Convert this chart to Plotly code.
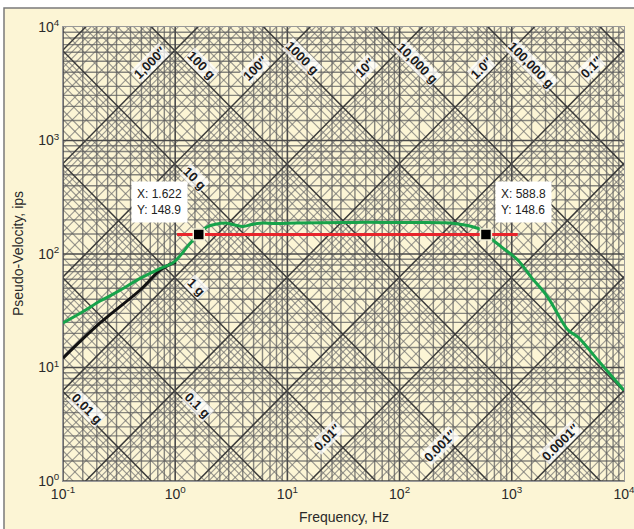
import numpy as np
import plotly.graph_objects as go

# ---------------- data ----------------
green_f = [0.1, 0.15, 0.214, 0.3, 0.487, 0.7, 0.96, 1.1, 1.3, 1.45, 1.622, 1.92, 2.3, 2.88, 3.4, 4.03,
           4.8, 5.7, 8, 12, 20, 40, 80, 150, 250, 311, 440, 540, 588.8, 814, 1131, 1500, 2090,
           3170, 3880, 5860, 10000]
green_v = [24.7, 31, 38.5, 46, 61, 73, 84, 96, 118, 133, 148.9, 173, 183, 187, 180, 175,
           182, 187, 186, 188, 189, 190, 190, 190, 189, 186, 175, 162, 148.6, 115, 88.5, 62, 41.8,
           21.4, 18.6, 11.6, 6.3]

black_f = [0.1, 0.214, 0.487, 0.735, 0.9, 1.02]
black_v = [12.1, 24.7, 48.2, 72.3, 81, 85]

red_f = [1.04, 1130]
red_v = [148.75, 148.75]

cursor_x = [1.622, 588.8]
cursor_y = [148.9, 148.6]

x_tick_exp = [-1, 0, 1, 2, 3, 4]
y_tick_exp = [0, 1, 2, 3, 4]

x_title = "Frequency, Hz"
y_title = "Pseudo-Velocity, ips"

diag_labels = ["1,000″", "100 g", "100″", "1000 g", "10″", "10,000 g", "1.0″", "100,000 g", "0.1″",
               "10 g", "1 g", "0.01 g", "0.1 g", "0.01″", "0.001″", "0.0001″"]

# ---------------- geometry ----------------
W, H = 634, 529
ML, MR, MT, MB = 63, 10, 27, 48
PW, PH = W - ML - MR, H - MT - MB

G_IN = 386.09
mults = [1, 1.5, 2, 2.5, 3, 4, 5, 6, 7, 8, 9]

fig = go.Figure()

def add_segments(segs, color, width):
    xs, ys = [], []
    for x0, y0, x1, y1 in segs:
        xs += [x0, x1, None]
        ys += [y0, y1, None]
    fig.add_trace(go.Scatter(x=xs, y=ys, mode="lines", line=dict(color=color, width=width),
                             hoverinfo="skip", showlegend=False))

minor, major = [], []
for n in range(-1, 4):
    for m in mults:
        f = m * 10.0 ** n
        (major if m == 1 else minor).append((f, 1, f, 1e4))
for n in range(0, 4):
    for m in mults:
        v = m * 10.0 ** n
        (major if m == 1 else minor).append((0.1, v, 1e4, v))
fa, fb = 1e-3, 1e6
dminor, dmajor = [], []
for n in range(-5, 8):
    for m in mults:
        A = m * 10.0 ** n
        seg = (fa, A * G_IN / (2 * np.pi * fa), fb, A * G_IN / (2 * np.pi * fb))
        (dmajor if m == 1 else dminor).append(seg)
for n in range(-7, 6):
    for m in mults:
        D = m * 10.0 ** n
        seg = (fa, D * 2 * np.pi * fa, fb, D * 2 * np.pi * fb)
        (dmajor if m == 1 else dminor).append(seg)

add_segments(dminor, "rgba(110,110,110,0.7)", 1.1)
add_segments(minor, "rgba(95,95,95,0.75)", 1.4)
add_segments(dmajor, "#3a3a3a", 1.5)
add_segments(major, "#4a4a4a", 1.6)

# ---------------- data curves ----------------
fig.add_trace(go.Scatter(x=black_f, y=black_v, mode="lines", line=dict(color="#111111", width=3),
                         line_shape="spline", hoverinfo="skip", showlegend=False))
fig.add_trace(go.Scatter(x=red_f, y=red_v, mode="lines", line=dict(color="#E8242B", width=3),
                         hoverinfo="skip", showlegend=False))
fig.add_trace(go.Scatter(x=green_f, y=green_v, mode="lines", line=dict(color="#17A34A", width=3),
                         line_shape="spline", hoverinfo="skip", showlegend=False))
fig.add_trace(go.Scatter(x=cursor_x, y=cursor_y, mode="markers",
                         marker=dict(symbol="square", size=11, color="black",
                                     line=dict(color="#F3EFD8", width=1.5)),
                         hoverinfo="skip", showlegend=False))

tip_shift = [(-39, 32), (38, 33)]
for (cx, cy), (dx, dy) in zip(zip(cursor_x, cursor_y), tip_shift):
    fig.add_annotation(x=np.log10(cx), y=np.log10(cy), xref="x", yref="y",
                       text=f"X: {cx:g}<br>Y: {cy:g}", showarrow=False, align="left",
                       xshift=dx, yshift=dy, bgcolor="white", borderpad=5,
                       font=dict(family="Liberation Sans, Arial", size=12, color="#222"))

label_px = [(150, 62), (202, 65), (255, 68), (303, 58), (365, 67), (418, 63), (481, 68), (532, 65),
            (591, 67), (195, 178), (197, 287), (87, 408), (198, 405), (327, 437), (440, 445), (560, 442)]
for txt, (px, py) in zip(diag_labels, label_px):
    lx = -1 + (px - ML) / PW * 5
    ly = 4 - (py - MT) / PH * 4
    ang = 45 if txt.endswith("g") else -45
    fig.add_annotation(x=lx, y=ly, xref="x", yref="y", text=f"<b>{txt}</b>", showarrow=False,
                       textangle=ang, bgcolor="rgba(255,255,255,0.75)", borderpad=0,
                       font=dict(family="Liberation Sans, Arial", size=13, color="#1a1a1a"))

title_font = dict(family="Liberation Sans, Arial", size=14, color="#2a2a2a")
fig.add_annotation(x=0.5, y=-(517 - (MT + PH)) / PH, xref="paper", yref="paper", text=x_title,
                   showarrow=False, font=title_font, xanchor="center", yanchor="middle")
fig.add_annotation(x=(18 - ML) / PW, y=0.5, xref="paper", yref="paper", text=y_title, textangle=-90,
                   showarrow=False, font=title_font, xanchor="center", yanchor="middle")

fig.add_shape(type="rect", xref="paper", yref="paper",
              x0=(4 - ML) / PW, x1=(W + 20 - ML) / PW,
              y0=-(MB + 20) / PH, y1=1 + (MT - 8) / PH,
              line=dict(color="#7a7a7a", width=1.5), fillcolor="#FCF5D5", layer="below")

tick_font = dict(family="Liberation Sans, Arial", size=14, color="#2a2a2a")
fig.update_xaxes(type="log", range=[-1, 4.0004], tickvals=[10.0 ** e for e in x_tick_exp],
                 ticktext=[f"10<sup>{e}</sup>" for e in x_tick_exp], tickfont=tick_font,
                 ticklabeloverflow="allow", automargin=False,
                 showgrid=False, zeroline=False, showline=True, linecolor="#999", mirror=True,
                 ticks="", ticklen=0)
fig.update_yaxes(type="log", range=[0, 4.0004], tickvals=[10.0 ** e for e in y_tick_exp],
                 ticktext=[f"10<sup>{e}</sup>" for e in y_tick_exp], tickfont=tick_font,
                 ticklabeloverflow="allow", automargin=False,
                 showgrid=False, zeroline=False, showline=True, linecolor="#999", mirror=True,
                 ticks="", ticklen=0)

fig.update_layout(width=W, height=H, margin=dict(l=ML, r=MR, t=MT, b=MB, autoexpand=False),
                  paper_bgcolor="white", plot_bgcolor="white", showlegend=False)

fig.write_html("out.html")
